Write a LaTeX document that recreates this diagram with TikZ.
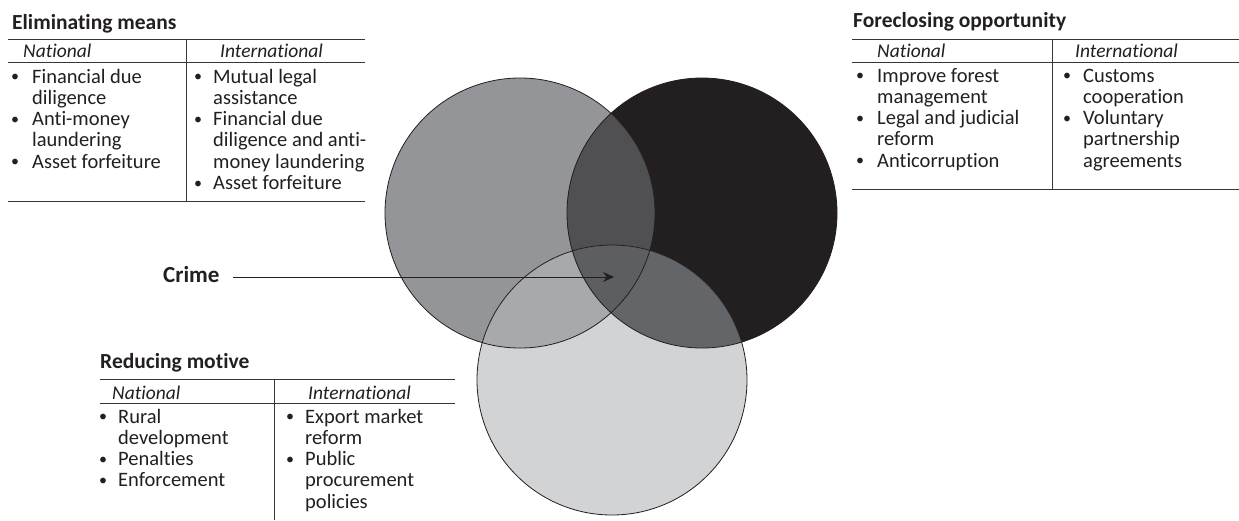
\documentclass[tikz,border=0pt]{standalone}
\usepackage{fontspec}
\setmainfont{Carlito}[Ligatures=NoCommon]
\usetikzlibrary{arrows.meta}
\definecolor{ink}{HTML}{231F20}
\definecolor{cL}{HTML}{939598}
\definecolor{cR}{HTML}{231F20}
\definecolor{cB}{HTML}{D1D3D4}
\definecolor{cLR}{HTML}{505052}
\definecolor{cLB}{HTML}{A7A9AC}
\definecolor{cRB}{HTML}{646568}
\definecolor{cLRB}{HTML}{5D5E60}
\tikzset{
  itm/.style={anchor=base west, inner sep=0pt, text=ink, font=\fontsize{20.5}{21.4}\selectfont},
  bul/.style={anchor=base west, inner sep=0pt, text=ink, font=\fontsize{16}{16}\selectfont},
  hdr/.style={anchor=base west, inner sep=0pt, text=ink, font=\fontsize{19.5}{21}\selectfont\itshape},
  ttl/.style={anchor=base west, inner sep=0pt, text=ink, font=\fontsize{21.5}{22}\selectfont\bfseries},
  tabrule/.style={draw=ink!90, line width=0.9pt},
  ring/.style={draw=ink, line width=0.8pt},
  pointer/.style={draw=ink, line width=0.9pt, -{Stealth[length=11pt,width=10pt]}},
}
% #1 name, #2 bullet x, #3 text x, #4 baseline y, #5 lines
\newcommand\putitem[5]{%
  \node[bul] (#1-b) at (#2,{#4-1.5}) {\textbullet};
  \foreach \itemline [count=\k] in {#5} {
    \node[itm] (#1-\k) at (#3,{#4+(\k-1)*21.3}) {\itemline};
  }
}
\begin{document}
\begin{tikzpicture}[x=1pt,y=-1pt]
\useasboundingbox (0,0) rectangle (1239,520);
\fill[white] (0,0) rectangle (1239,520);

% ---------- circles ----------
\coordinate (oL) at (520,213);
\coordinate (oR) at (702,213);
\coordinate (oB) at (612,380);
\def\rad{135pt}
\fill[cL] (oL) circle[radius=\rad];
\fill[cR] (oR) circle[radius=\rad];
\fill[cB] (oB) circle[radius=\rad];
\begin{scope}
  \clip (oL) circle[radius=\rad];
  \fill[cLR] (oR) circle[radius=\rad];
  \fill[cLB] (oB) circle[radius=\rad];
  \clip (oR) circle[radius=\rad];
  \fill[cLRB] (oB) circle[radius=\rad];
\end{scope}
\begin{scope}
  \clip (oR) circle[radius=\rad];
  \clip (oB) circle[radius=\rad];
  \fill[cRB] (oB) circle[radius=\rad];
  \clip (oL) circle[radius=\rad];
  \fill[cLRB] (oB) circle[radius=\rad];
\end{scope}
\draw[ring] (oL) circle[radius=\rad];
\draw[ring] (oR) circle[radius=\rad];
\draw[ring] (oB) circle[radius=\rad];

% ---------- Crime pointer ----------
\node[ttl, font=\fontsize{23}{23}\selectfont\bfseries] (crime) at (163,282) {Crime};
\coordinate (tip) at (614,277);
\draw[pointer, shorten <=13pt] (crime.east |- tip) -- (tip);

% ---------- Eliminating means ----------
\node[ttl] (emt) at (12,29) {Eliminating means};
\draw[tabrule] (8,39) -- (365,39);
\draw[tabrule] (8,62) -- (365,62);
\draw[tabrule] (8,201) -- (365,201);
\draw[tabrule] (186,39) -- (186,201);
\node[hdr] (emn) at (23,57) {National};
\node[hdr] (emi) at (220,57) {International};
\putitem{emn1}{11}{32}{83}{Financial due,diligence}
\putitem{emn2}{11}{32}{125.6}{Anti-money,laundering}
\putitem{emn3}{11}{32}{168.2}{Asset forfeiture}
\putitem{emi1}{194}{213}{83}{Mutual legal,assistance}
\putitem{emi2}{194}{213}{125.6}{Financial due,diligence and anti-,money laundering}
\putitem{emi3}{194}{213}{189.5}{Asset forfeiture}

% ---------- Foreclosing opportunity ----------
\node[ttl] (fot) at (853,27) {Foreclosing opportunity};
\draw[tabrule] (852,39) -- (1239,39);
\draw[tabrule] (852,62) -- (1239,62);
\draw[tabrule] (852,189) -- (1239,189);
\draw[tabrule] (1052,39) -- (1052,189);
\node[hdr] (fon) at (877,57) {National};
\node[hdr] (foi) at (1075,57) {International};
\putitem{fon1}{856}{877}{82}{Improve forest,management}
\putitem{fon2}{856}{877}{124.6}{Legal and judicial,reform}
\putitem{fon3}{856}{877}{167.2}{Anticorruption}
\putitem{foi1}{1063}{1083}{82}{Customs,cooperation}
\putitem{foi2}{1063}{1083}{124.6}{Voluntary,partnership,agreements}

% ---------- Reducing motive ----------
\node[ttl] (rmt) at (100,368) {Reducing motive};
\draw[tabrule] (100,379) -- (455,379);
\draw[tabrule] (100,403) -- (455,403);
\draw[tabrule] (274,379) -- (274,520);
\node[hdr] (rmn) at (112,399) {National};
\node[hdr] (rmi) at (308,399) {International};
\putitem{rmn1}{99}{118}{423}{Rural,development}
\putitem{rmn2}{99}{118}{465.6}{Penalties}
\putitem{rmn3}{99}{118}{486.9}{Enforcement}
\putitem{rmi1}{286}{305}{423}{Export market,reform}
\putitem{rmi2}{286}{305}{465.6}{Public,procurement,policies}
\end{tikzpicture}
\end{document}
